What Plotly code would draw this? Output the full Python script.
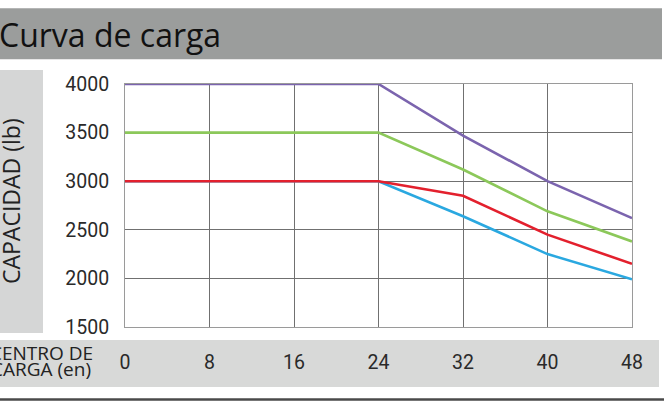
import plotly.graph_objects as go

# ---- data ----
centro_carga = [0, 8, 16, 24, 32, 40, 48]
serie_4000 = [4000, 4000, 4000, 4000, 3470, 3000, 2620]
serie_3500 = [3500, 3500, 3500, 3500, 3120, 2690, 2380]
serie_3000_a = [3000, 3000, 3000, 3000, 2850, 2450, 2150]
serie_3000_b = [3000, 3000, 3000, 3000, 2640, 2250, 1990]
y_ticks = [1500, 2000, 2500, 3000, 3500, 4000]
x_ticks = [0, 8, 16, 24, 32, 40, 48]

titulo = "Curva de carga"
titulo_y = "CAPACIDAD (lb)"
titulo_x_1 = "CENTRO DE"
titulo_x_2 = "CARGA (en)"

# ---- layout geometry ----
W, H = 664, 405
L, R, T, B = 125, 32, 84, 78
PW, PH = W - L - R, H - T - B


def px(x):
    return (x - L) / PW


def py(y):
    return (H - B - y) / PH


fig = go.Figure()

series = [
    (serie_3000_b, "#2aa8e0"),
    (serie_3000_a, "#e3202d"),
    (serie_3500, "#8cc85a"),
    (serie_4000, "#7b64ae"),
]
for vals, col in series:
    fig.add_trace(go.Scatter(x=centro_carga, y=vals, mode="lines",
                             line=dict(color=col, width=2.6),
                             showlegend=False, hoverinfo="skip",
                             cliponaxis=False))

shapes = [
    dict(type="rect", xref="paper", yref="paper", x0=px(0), x1=px(662),
         y0=py(59.3), y1=py(8.3), fillcolor="#9b9d9c", line_width=0, layer="below"),
    dict(type="rect", xref="paper", yref="paper", x0=px(0), x1=px(43),
         y0=py(333), y1=py(70), fillcolor="#d5d6d6", line_width=0, layer="below"),
    dict(type="rect", xref="paper", yref="paper", x0=px(0), x1=px(659),
         y0=py(387), y1=py(340), fillcolor="#d8d9d8", line_width=0, layer="below"),
    dict(type="line", xref="paper", yref="paper", x0=px(0), x1=px(664),
         y0=py(399.5), y1=py(399.5), line=dict(color="#4a4a4a", width=2.5)),
]

annotations = [
    dict(text=titulo, xref="paper", yref="paper", x=px(-3), y=py(35),
         xanchor="left", yanchor="middle", showarrow=False,
         font=dict(family="Open Sans", size=32, color="#111111")),
    dict(text=titulo_y, xref="paper", yref="paper", x=px(11), y=py(201),
         xanchor="center", yanchor="middle", textangle=-90, showarrow=False,
         font=dict(family="Open Sans", size=23, color="#222222")),
    dict(text=titulo_x_1, xref="paper", yref="paper", x=px(95), y=py(353),
         xanchor="right", yanchor="middle", showarrow=False,
         font=dict(family="Open Sans", size=19, color="#222222")),
    dict(text=titulo_x_2, xref="paper", yref="paper", x=px(93), y=py(369),
         xanchor="right", yanchor="middle", showarrow=False,
         font=dict(family="Open Sans", size=19, color="#222222")),
]

fig.update_layout(
    width=W, height=H,
    margin=dict(l=L, r=R, t=T, b=B, pad=0),
    paper_bgcolor="white", plot_bgcolor="white",
    shapes=shapes, annotations=annotations,
    font=dict(family="Roboto", size=19.5, color="#2a2a2a"),
)
fig.update_xaxes(range=[0, 48], tickvals=x_ticks, ticktext=[str(v) for v in x_ticks],
                 showgrid=True, gridcolor="#707070", gridwidth=1,
                 showline=True, linecolor="#9a9a9a", linewidth=1, mirror=True,
                 zeroline=False, ticks="", ticklabelstandoff=18, fixedrange=True)
fig.update_yaxes(range=[1500, 4000], tickvals=y_ticks, ticktext=[str(v) for v in y_ticks],
                 showgrid=True, gridcolor="#707070", gridwidth=1,
                 showline=True, linecolor="#9a9a9a", linewidth=1, mirror=True,
                 zeroline=False, ticks="", ticklabelstandoff=11, fixedrange=True)

fig.write_html("out.html",
               config={"displayModeBar": False, "staticPlot": True},
               post_script="document.body.style.margin='0';document.body.style.overflow='hidden';")
